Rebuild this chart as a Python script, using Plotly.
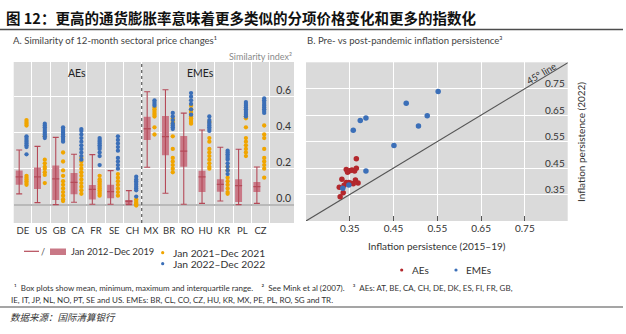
import plotly.graph_objects as go

W, H = 626, 334

# ---------------- Panel A data ----------------
categories = ["DE", "US", "GB", "CA", "FR", "SE", "CH", "MX", "BR", "RO", "HU", "KR", "PL", "CZ"]
box_min = [0.06, 0.011, 0.0, 0.013, 0.002, 0.002, 0.0, 0.208, 0.063, 0.002, 0.007, 0.02, 0.0, 0.007]
box_q1 = [0.11, 0.087, 0.026, 0.058, 0.028, 0.035, 0.0, 0.36, 0.274, 0.211, 0.07, 0.072, 0.015, 0.07]
box_mean = [0.154, 0.154, 0.143, 0.124, 0.085, 0.072, 0.019, 0.422, 0.378, 0.298, 0.154, 0.113, 0.106, 0.1]
box_q3 = [0.19, 0.206, 0.217, 0.176, 0.109, 0.111, 0.026, 0.489, 0.493, 0.382, 0.189, 0.141, 0.141, 0.126]
box_max = [0.304, 0.324, 0.374, 0.28, 0.278, 0.189, 0.078, 0.628, 0.639, 0.509, 0.415, 0.319, 0.308, 0.209]

dots_2021 = [
    [0.47, 0.46, 0.45, 0.44, 0.16, 0.15, 0.14, 0.13, 0.12, 0.11],
    [0.38, 0.25, 0.23, 0.21, 0.20, 0.18, 0.165, 0.12],
    [0.29, 0.24, 0.19, 0.16, 0.13, 0.11, 0.09, 0.07, 0.05, 0.03, 0.02],
    [0.26, 0.24, 0.22, 0.20, 0.18, 0.16, 0.14, 0.12, 0.10, 0.08, 0.06],
    [0.16, 0.14, 0.13, 0.12, 0.11, 0.10, 0.09, 0.08, 0.07, 0.06, 0.05],
    [0.17, 0.15, 0.13, 0.11, 0.09, 0.07, 0.05],
    [0.03, 0.02, 0.01, 0.005, 0.0, -0.005],
    [0.54, 0.53, 0.52, 0.51, 0.50, 0.49, 0.43, 0.39],
    [0.48, 0.47, 0.46, 0.45, 0.38, 0.31, 0.26, 0.24, 0.22, 0.20, 0.18],
    [0.55, 0.53, 0.52, 0.51, 0.50, 0.49, 0.48, 0.47, 0.46, 0.45],
    [0.46, 0.37, 0.35, 0.31, 0.29, 0.27, 0.25, 0.23, 0.21, 0.20],
    [0.21, 0.19, 0.15, 0.13, 0.11, 0.09, 0.07, 0.06],
    [0.49, 0.48, 0.43, 0.37, 0.35, 0.33, 0.31, 0.29, 0.27],
    [0.44, 0.39, 0.37, 0.31, 0.26, 0.24, 0.22, 0.20, 0.15],
]
dots_2022 = [
    [0.38, 0.37, 0.36, 0.35, 0.34, 0.33, 0.32, 0.28],
    [0.45, 0.44, 0.43, 0.42, 0.41, 0.40, 0.39, 0.38, 0.37],
    [0.43, 0.42, 0.41, 0.40, 0.39, 0.38, 0.37, 0.36, 0.35],
    [0.42, 0.41, 0.39, 0.37, 0.35, 0.33, 0.31, 0.29, 0.27, 0.25],
    [0.37, 0.36, 0.35, 0.34, 0.33, 0.32, 0.31, 0.29, 0.27, 0.22],
    [0.38, 0.36, 0.34, 0.32, 0.30, 0.26, 0.24, 0.22, 0.20],
    [0.155, 0.14, 0.13, 0.12, 0.11, 0.10, 0.09, 0.08, 0.045],
    [0.58, 0.57, 0.56, 0.55],
    [0.51, 0.49, 0.47, 0.45, 0.44, 0.43, 0.42],
    [0.62, 0.60, 0.58, 0.56, 0.53, 0.50],
    [0.49, 0.47, 0.46, 0.45, 0.44, 0.43, 0.42, 0.41],
    [0.30, 0.29, 0.28, 0.27, 0.26, 0.25, 0.23, 0.21, 0.19, 0.17],
    [0.57, 0.56, 0.55, 0.54, 0.53, 0.52, 0.51, 0.50, 0.49],
    [0.59, 0.58, 0.57, 0.56, 0.55, 0.54, 0.53, 0.52, 0.51],
]
a_yticks = [0.0, 0.2, 0.4, 0.6]

# ---------------- Panel B data ----------------
aes_x = [0.365, 0.342, 0.345, 0.355, 0.361, 0.365, 0.350, 0.332, 0.342, 0.348, 0.353,
         0.358, 0.363, 0.369, 0.326, 0.337, 0.335, 0.328]
aes_y = [0.485, 0.445, 0.434, 0.443, 0.439, 0.449, 0.440, 0.408, 0.396, 0.396, 0.393,
         0.391, 0.405, 0.394, 0.378, 0.385, 0.357, 0.342]
emes_x = [0.552, 0.479, 0.527, 0.507, 0.451, 0.387, 0.374, 0.358, 0.387, 0.348, 0.334]
emes_y = [0.740, 0.695, 0.648, 0.609, 0.535, 0.639, 0.630, 0.593, 0.439, 0.386, 0.374]
b_ticks = [0.25, 0.35, 0.45, 0.55, 0.65, 0.75]
line45 = [0.25, 0.85]

# ---------------- styling ----------------
FONT = "Lato"
CJK = "Noto Sans CJK SC"
BG = "#dadada"
BOX_FILL = "#c97886"
BOX_LINE = "#b54a58"
ORANGE = "#f0a500"
BLUE = "#3b6fb8"
RED = "#b3282d"
TXT = "#333333"

def px(x):
    return x / W

def py(y):
    return 1 - y / H

fig = go.Figure()

n = len(categories)
idx = list(range(n))
xb = [i - 0.2 for i in idx]
xd = [i + 0.2 for i in idx]

# boxes (interquartile range)
fig.add_trace(go.Bar(
    x=xb, base=box_q1, y=[q3 - q1 for q1, q3 in zip(box_q1, box_q3)],
    width=0.38, marker=dict(color=BOX_FILL, line=dict(width=0)),
    xaxis="x", yaxis="y", showlegend=False, hoverinfo="skip"))
# whiskers (min-max) with mean tick
fig.add_trace(go.Scatter(
    x=xb, y=box_mean, mode="markers",
    marker=dict(symbol="line-ew", size=5, line=dict(color=BOX_LINE, width=1.3)),
    error_y=dict(type="data", symmetric=False,
                 array=[mx - m for mx, m in zip(box_max, box_mean)],
                 arrayminus=[m - mn for m, mn in zip(box_mean, box_min)],
                 color=BOX_LINE, thickness=1.1, width=3),
    xaxis="x", yaxis="y", showlegend=False, hoverinfo="skip"))
# dots
ox, oy, bx, by = [], [], [], []
for i in idx:
    ox += [xd[i]] * len(dots_2021[i]); oy += dots_2021[i]
    bx += [xd[i]] * len(dots_2022[i]); by += dots_2022[i]
fig.add_trace(go.Scatter(x=ox, y=oy, mode="markers",
                         marker=dict(color=ORANGE, size=4.3),
                         xaxis="x", yaxis="y", showlegend=False))
fig.add_trace(go.Scatter(x=bx, y=by, mode="markers",
                         marker=dict(color=BLUE, size=4.3),
                         xaxis="x", yaxis="y", showlegend=False))

# panel B: 45 degree line and scatter
fig.add_trace(go.Scatter(x=line45, y=line45, mode="lines",
                         line=dict(color="#555555", width=1.1),
                         xaxis="x2", yaxis="y2", showlegend=False, hoverinfo="skip"))
fig.add_trace(go.Scatter(x=aes_x, y=aes_y, mode="markers",
                         marker=dict(color=RED, size=5.5),
                         xaxis="x2", yaxis="y2", showlegend=False))
fig.add_trace(go.Scatter(x=emes_x, y=emes_y, mode="markers",
                         marker=dict(color=BLUE, size=5.5),
                         xaxis="x2", yaxis="y2", showlegend=False))

# axes
fig.update_layout(
    width=W, height=H, margin=dict(l=0, r=0, t=0, b=0),
    paper_bgcolor="white", plot_bgcolor=BG,
    font=dict(family=FONT, color=TXT, size=10),
    showlegend=False,
    xaxis=dict(domain=[px(13.7), px(294)], range=[-0.5, 14.83],
               tickmode="array", tickvals=idx, ticktext=categories,
               showgrid=False, zeroline=False, ticks="",
               tickfont=dict(size=9.5, color=TXT),
               minor=dict(tickmode="array", tickvals=[i - 0.5 for i in range(n + 1)],
                          showgrid=True, gridcolor="white", gridwidth=1, ticks="")),
    yaxis=dict(domain=[py(223), py(62)], range=[-0.102, 0.793],
               side="right", ticklabelposition="inside", anchor="x",
               tickmode="array", tickvals=a_yticks, ticklabelshift=-6,
               ticktext=[f"{v:.1f}" for v in a_yticks],
               showgrid=True, gridcolor="white", gridwidth=1,
               zeroline=True, zerolinecolor="#b9b9b9", zerolinewidth=2,
               tickfont=dict(size=10.5, color=TXT), ticks=""),
    xaxis2=dict(domain=[px(306), px(567.7)], range=[0.25, 0.848],
                anchor="y2", tickmode="array", tickvals=b_ticks,
                ticktext=["" if v == 0.25 else f"{v:.2f}" for v in b_ticks],
                showgrid=True, gridcolor="white", gridwidth=1, zeroline=False,
                ticks="inside", ticklen=5, tickcolor="#555555", tickwidth=1,
                tickfont=dict(size=10, color=TXT)),
    yaxis2=dict(domain=[py(221), py(62.3)], range=[0.25, 0.85],
                anchor="x2", side="right", ticklabelposition="inside",
                tickmode="array", tickvals=b_ticks[1:], ticklabelshift=-5,
                ticktext=[f"{v:.2f}" for v in b_ticks[1:]],
                showgrid=True, gridcolor="white", gridwidth=1, zeroline=False,
                ticks="", tickfont=dict(size=10, color=TXT)),
)

shapes = []
# title underline
shapes.append(dict(type="line", xref="paper", yref="paper", x0=0, x1=px(623),
                   y0=py(29.5), y1=py(29.5), line=dict(color="#4d4d4d", width=1.5)))
# footnote underline
shapes.append(dict(type="line", xref="paper", yref="paper", x0=0, x1=px(623),
                   y0=py(307), y1=py(307), line=dict(color="#4d4d4d", width=1.2)))
# AEs / EMEs divider
shapes.append(dict(type="line", xref="x", yref="y domain", x0=6.5, x1=6.5, y0=0, y1=1,
                   line=dict(color="#666666", width=1.3, dash="dot")))
# legend A: line and box
shapes.append(dict(type="line", xref="paper", yref="paper", x0=px(24), x1=px(39),
                   y0=py(251.3), y1=py(251.3), line=dict(color=BOX_LINE, width=1.2)))
shapes.append(dict(type="rect", xref="paper", yref="paper", x0=px(50), x1=px(66),
                   y0=py(255), y1=py(248.5), fillcolor=BOX_FILL, line=dict(width=0)))
# legend dots
def dot(cx, cy, color, r=1.6):
    shapes.append(dict(type="circle", xref="paper", yref="paper",
                       x0=px(cx - r), x1=px(cx + r), y0=py(cy + r), y1=py(cy - r),
                       fillcolor=color, line=dict(width=0)))
dot(162.7, 252.7, ORANGE)
dot(162.7, 263.7, BLUE)
dot(401.7, 270, RED)
dot(456, 270, BLUE)
fig.update_layout(shapes=shapes)

ann = []
def text(x, y, s, size=10, color=TXT, xanchor="left", yanchor="middle", family=FONT, angle=0):
    ann.append(dict(xref="paper", yref="paper", x=px(x), y=py(y), text=s, showarrow=False,
                    xanchor=xanchor, yanchor=yanchor, textangle=angle,
                    font=dict(size=size, color=color, family=family)))

text(4, 17, "<b>图 12：更高的通货膨胀率意味着更多类似的分项价格变化和更多的指数化</b>",
     size=14.5, color="#111111", family=CJK)
text(11, 40.5, "A. Similarity of 12-month sectoral price changes¹", size=9.6, color="#444444")
text(305, 40.5, "B. Pre- vs post-pandemic inflation persistence³", size=9.6, color="#444444")
text(294, 56, "Similarity index²", size=9, color="#8a8a8a", xanchor="right")
ann.append(dict(xref="x", yref="y", x=2.98, y=0.73, text="AEs", showarrow=False,
                font=dict(size=10.5, color="#222222", family=FONT)))
ann.append(dict(xref="x", yref="y", x=9.7, y=0.73, text="EMEs", showarrow=False,
                font=dict(size=10.5, color="#222222", family=FONT)))
# legend A
text(42.7, 251.3, "/", size=9, color="#555555", xanchor="center")
text(69, 251.3, "Jan 2012–Dec 2019", size=9.3)
text(171, 252.5, "Jan 2021–Dec 2021", size=10.3)
text(171, 263.8, "Jan 2022–Dec 2022", size=10.3)
# panel B titles and legend
text(436.7, 245.5, "Inflation persistence (2015–19)", size=10, xanchor="center")
text(581, 142, "Inflation persistence (2022)", size=10, xanchor="center", angle=-90)
text(541, 73, "45° line", size=9.5, color="#333333", xanchor="center", angle=-31)
text(410, 269.5, "AEs", size=10)
text(464, 269.5, "EMEs", size=10)
# footnotes
text(12, 288, "¹  Box plots show mean, minimum, maximum and interquartile range.    ²  See Mink et al (2007).    "
     "³  AEs: AT, BE, CA, CH, DE, DK, ES, FI, FR, GB,", size=8, color="#333333")
text(9, 299.5, "IE, IT, JP, NL, NO, PT, SE and US. EMEs: BR, CL, CO, CZ, HU, KR, MX, PE, PL, RO, SG and TR.",
     size=8, color="#333333")
text(8, 316.5, "<i>数据来源：国际清算银行</i>", size=9.5, color="#333333", family=CJK)

fig.update_layout(annotations=ann)
fig.write_html("out.html")
